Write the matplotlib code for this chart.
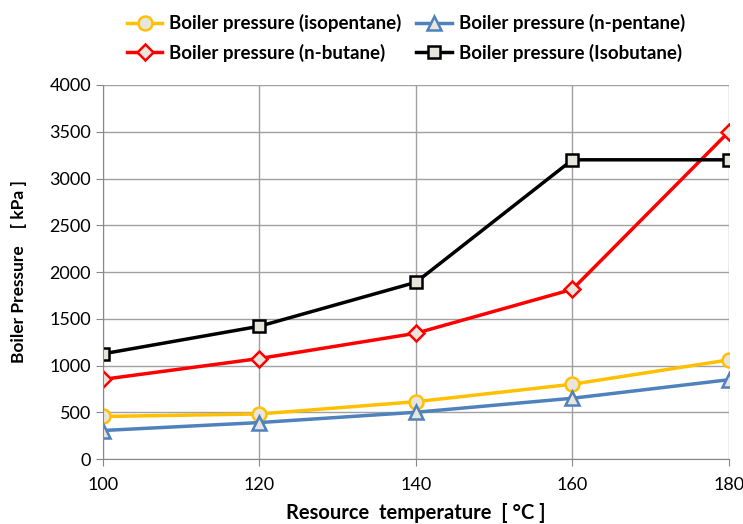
import matplotlib
matplotlib.use("Agg")
import matplotlib.pyplot as plt

temps = [100, 120, 140, 160, 180]
isopentane = [455, 482, 613, 800, 1060]
n_pentane = [305, 390, 500, 650, 848]
n_butane = [852, 1075, 1345, 1815, 3500]
isobutane = [1125, 1420, 1890, 3200, 3200]

plt.rcParams['font.family'] = ['Lato', 'DejaVu Sans']

fig = plt.figure(figsize=(7.43, 5.24), dpi=100)
ax = fig.add_axes([0.1386, 0.124, 0.981 - 0.1386, 0.8378 - 0.124])

face = '#E8E6DC'
l1, = ax.plot(temps, isopentane, color='#FFC000', lw=2.5, marker='o', ms=10, mfc=face, mec='#FFC000', mew=1.8,
              label='Boiler pressure (isopentane)')
l2, = ax.plot(temps, n_pentane, color='#4F81BD', lw=2.5, marker='^', ms=10, mfc=face, mec='#4F81BD', mew=1.8,
              label='Boiler pressure (n-pentane)')
l3, = ax.plot(temps, n_butane, color='#FF0000', lw=2.5, marker='D', ms=8, mfc=face, mec='#FF0000', mew=1.8,
              label='Boiler pressure (n-butane)')
l4, = ax.plot(temps, isobutane, color='#000000', lw=2.5, marker='s', ms=8, mfc=face, mec='#000000', mew=1.8,
              label='Boiler pressure (Isobutane)')

ax.set_xlim(100, 180)
ax.set_ylim(0, 4000)
ax.set_xticks(temps)
ax.set_yticks(range(0, 4001, 500))
ax.grid(True, color='#A0A0A0', lw=1)
ax.set_axisbelow(True)
for s in ['top', 'right']:
    ax.spines[s].set_visible(False)
for s in ['left', 'bottom']:
    ax.spines[s].set_color('#888888')
ax.tick_params(labelsize=13, length=5, color='#888888', direction='out')
ax.tick_params(axis='x', pad=8)
ax.set_xlabel('Resource  temperature  [ °C ]', fontsize=14.5, fontweight='bold', labelpad=7)
ax.set_ylabel('Boiler Pressure    [ kPa ]', fontsize=12.5, fontweight='bold', labelpad=16)

leg = fig.legend(handles=[l1, l3, l2, l4], ncol=2, loc='upper left', bbox_to_anchor=(0.148, 1.005),
                 frameon=False, handlelength=1.9, columnspacing=0.8, handletextpad=0.35,
                 labelspacing=0.6, prop={'weight': 'bold', 'size': 13.5})

fig.savefig('out.png', dpi=100)
